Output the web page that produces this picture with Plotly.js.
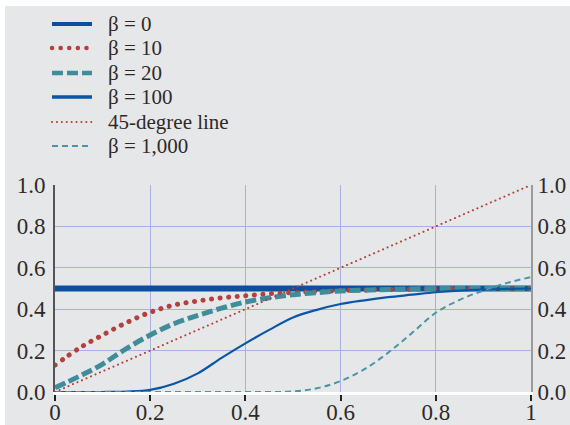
<!DOCTYPE html>
<html>
<head>
<meta charset="utf-8">
<script src="https://cdn.plot.ly/plotly-3.0.1.min.js"></script>
<style>html,body{margin:0;padding:0;background:#e6e7e9;}#chart{width:570px;height:425px;}</style>
</head>
<body>
<div id="chart"></div>
<script>
// x positions
const xs = [0,0.05,0.1,0.15,0.2,0.25,0.3,0.35,0.4,0.45,0.5,0.55,0.6,0.65,0.7,0.75,0.8,0.85,0.9,0.95,1];
// series values
const beta0    = [0.5,0.5,0.5,0.5,0.5,0.5,0.5,0.5,0.5,0.5,0.5,0.5,0.5,0.5,0.5,0.5,0.5,0.5,0.5,0.5,0.5];
const beta10   = [0.13,0.21,0.275,0.335,0.385,0.42,0.44,0.455,0.465,0.475,0.48,0.485,0.49,0.493,0.495,0.497,0.5,0.5,0.5,0.5,0.5];
const beta20   = [0.02,0.075,0.135,0.21,0.275,0.33,0.37,0.405,0.435,0.455,0.47,0.48,0.488,0.492,0.495,0.498,0.5,0.5,0.5,0.5,0.5];
const beta100  = [0,0,0,0.002,0.01,0.04,0.09,0.165,0.235,0.3,0.36,0.397,0.425,0.443,0.458,0.47,0.482,0.49,0.495,0.498,0.5];
const line45   = [0,0.05,0.1,0.15,0.2,0.25,0.3,0.35,0.4,0.45,0.5,0.55,0.6,0.65,0.7,0.75,0.8,0.85,0.9,0.95,1];
const beta1000 = [0,0,0,0,0,0,0,0,0,0,0.003,0.018,0.053,0.11,0.19,0.285,0.383,0.445,0.49,0.527,0.555];
// labels
const names = ['β = 0','β = 10','β = 20','β = 100','45-degree line','β = 1,000'];
const xTickVals = [0,0.2,0.4,0.6,0.8,1];
const xTickText = ['0','0.2','0.4','0.6','0.8','1'];
const yTickVals = [0,0.2,0.4,0.6,0.8,1.0];
const yTickText = ['0.0','0.2','0.4','0.6','0.8','1.0'];

const serif = '"Liberation Serif", "Times New Roman", serif';
const txtColor = '#2e2a26';

const styles = [
  {color: '#0b4f9e', width: 6, dash: 'solid', legW: 4},
  {color: '#b3403c', width: 5, dash: '0.1px,8.5px', legW: 4.5},
  {color: '#3f8c9a', width: 5, dash: '11px,4px', legW: 4.5},
  {color: '#0a56a6', width: 2.2, dash: 'solid', legW: 3.5},
  {color: '#b3403c', width: 2, dash: '0.1px,4.8px', legW: 2},
  {color: '#4b94a3', width: 2, dash: '6px,4px', legW: 2.2}
];
const series = [beta0, beta10, beta20, beta100, line45, beta1000];

const traces = series.map((ys, i) => ({
  x: xs, y: ys, name: names[i], mode: 'lines',
  yaxis: i === 4 ? 'y2' : 'y',
  line: {color: styles[i].color, width: styles[i].width, dash: styles[i].dash, shape: (i === 0 || i === 4) ? 'linear' : 'spline'},
  showlegend: false
}));

// hand-made legend (line samples + labels)
const legendRowsPx = [24, 48, 73, 97, 122, 146];
const px2x = px => (px - 55) / 476;
const px2y = py => (392 - py) / 207;
const shapes = [
  {type: 'rect', xref: 'paper', yref: 'paper', x0: -0.2, x1: 1.2, y0: px2y(6), y1: px2y(-5), fillcolor: '#ffffff', line: {width: 0}, layer: 'below'},
  {type: 'rect', xref: 'paper', yref: 'paper', x0: -0.2, x1: px2x(5), y0: px2y(430), y1: px2y(-5), fillcolor: '#ffffff', line: {width: 0}, layer: 'below'}
];
const annotations = [];
names.forEach((n, i) => {
  shapes.push({type: 'line', xref: 'paper', yref: 'paper', x0: px2x(52), x1: px2x(92), y0: px2y(legendRowsPx[i]), y1: px2y(legendRowsPx[i]),
    line: {color: styles[i].color, width: styles[i].legW, dash: styles[i].dash}});
  annotations.push({xref: 'paper', yref: 'paper', x: px2x(106), y: px2y(legendRowsPx[i]), xanchor: 'left', yanchor: 'middle',
    text: n, showarrow: false, font: {family: serif, size: 21, color: txtColor}});
});

const layout = {
  width: 570, height: 425,
  margin: {l: 55, r: 39, t: 185, b: 33, pad: 0, autoexpand: false},
  paper_bgcolor: '#e6e7e9',
  plot_bgcolor: '#e6e7e9',
  font: {family: serif, size: 23, color: txtColor},
  showlegend: false,
  xaxis: {
    range: [0, 1], tickvals: xTickVals, ticktext: xTickText,
    showgrid: true, gridcolor: '#a9b1e0', gridwidth: 1,
    zeroline: false, showline: true, linecolor: '#ffffff', linewidth: 3,
    ticks: 'outside', ticklen: 6, tickwidth: 2, tickcolor: '#222222', ticklabelstandoff: -9,
    tickfont: {family: serif, size: 23, color: txtColor}, fixedrange: true
  },
  yaxis: {
    range: [0, 1], tickvals: yTickVals, ticktext: yTickText,
    showgrid: true, gridcolor: '#a9b1e0', gridwidth: 1,
    zeroline: false, showline: true, linecolor: '#555555', linewidth: 2,
    ticks: '', ticklabelstandoff: 3,
    tickfont: {family: serif, size: 23, color: txtColor}, fixedrange: true
  },
  yaxis2: {
    range: [0, 1], tickvals: yTickVals, ticktext: yTickText,
    overlaying: 'y', side: 'right',
    showgrid: false, zeroline: false, showline: true, linecolor: '#9a9a9a', linewidth: 2,
    ticks: '', ticklabelstandoff: 0,
    tickfont: {family: serif, size: 23, color: txtColor}, fixedrange: true
  },
  shapes: shapes,
  annotations: annotations
};

Plotly.newPlot('chart', traces, layout, {displayModeBar: false, staticPlot: true}).then(gd => {
  // round caps so that near-zero dashes render as dots
  gd.querySelectorAll('path').forEach(p => {
    const da = p.style.strokeDasharray || p.getAttribute('stroke-dasharray') || '';
    if (da.trim().startsWith('0.1')) p.style.strokeLinecap = 'round';
  });
});
</script>
</body>
</html>
